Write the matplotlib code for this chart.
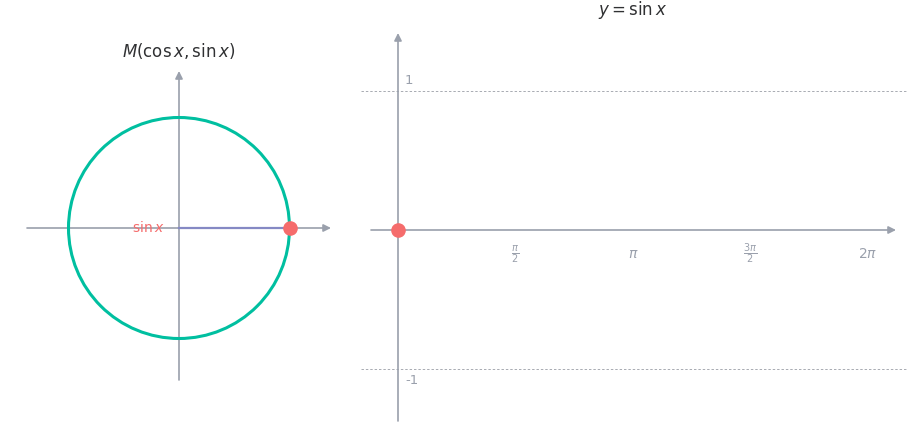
import numpy as np
import matplotlib.pyplot as plt
from matplotlib.patches import Circle

# current angle and the point M on the unit circle
angle_x = 0.0
point_cos = 1.0
point_sin = 0.0
radius = 1.0

# sine graph ticks
x_ticks = [np.pi / 2, np.pi, 3 * np.pi / 2, 2 * np.pi]
x_tick_labels = [r'$\frac{\pi}{2}$', r'$\pi$', r'$\frac{3\pi}{2}$', r'$2\pi$']
y_levels = [1, -1]
y_level_labels = ['1', '-1']

axis_color = '#9aa0ac'
circle_color = '#00bfa0'
point_color = '#f56c6c'
seg_color = '#8589c4'
text_color = '#303133'

W, H = 924, 440
fig = plt.figure(figsize=(W / 100, H / 100), dpi=100)


def add_px_axes(x0, x1, y0, y1):
    # pixel box (top-left origin) -> figure fraction
    return fig.add_axes([x0 / W, (H - y1) / H, (x1 - x0) / W, (y1 - y0) / H])


def arrow(ax, start, tip):
    ax.annotate('', xy=tip, xytext=start,
                arrowprops=dict(arrowstyle='-|>', color=axis_color, lw=1.2,
                                mutation_scale=11, shrinkA=0, shrinkB=0))


# ---- left: unit circle ----
cx, cy, s1 = 179, 228, 110.5
ax1 = add_px_axes(5, 350, 0, 440)
ax1.set_xlim((5 - cx) / s1, (350 - cx) / s1)
ax1.set_ylim((cy - 440) / s1, cy / s1)
ax1.axis('off')

arrow(ax1, ((27 - cx) / s1, 0), ((331 - cx) / s1, 0))
arrow(ax1, (0, (cy - 380) / s1), (0, (cy - 71) / s1))
ax1.add_patch(Circle((0, 0), radius, fill=False, color=circle_color, lw=2.2, zorder=3))
ax1.plot([0, point_cos], [0, point_sin], color=seg_color, lw=1.6, zorder=4)
ax1.plot([point_cos], [point_sin], 'o', color=point_color, ms=9.5, zorder=5)
ax1.text(-0.28, 0, r'$\sin x$', color=point_color, fontsize=10,
         ha='center', va='center')
ax1.text(0, (cy - 51) / s1, r'$M(\cos x, \sin x)$', color=text_color,
         fontsize=12, ha='center', va='center')

# ---- right: y = sin x ----
ox, oy = 398, 230
sx = (868 - 398) / (2 * np.pi)
sy = 138.5
ax2 = add_px_axes(355, 920, 0, 440)
ax2.set_xlim((355 - ox) / sx, (920 - ox) / sx)
ax2.set_ylim((oy - 440) / sy, oy / sy)
ax2.axis('off')

arrow(ax2, ((371 - ox) / sx, 0), ((896 - ox) / sx, 0))
arrow(ax2, (0, (oy - 421) / sy), (0, (oy - 33) / sy))

for lvl, lab in zip(y_levels, y_level_labels):
    ax2.plot([(361 - ox) / sx, (906 - ox) / sx], [lvl, lvl], color='#a8abb2',
             lw=0.7, ls=(0, (2.5, 2)), zorder=1)
    ax2.text(7 / sx, lvl + (11 / sy if lvl > 0 else -12 / sy),
             lab, color=axis_color, fontsize=9.5, ha='left', va='center')

for xt, lab in zip(x_ticks, x_tick_labels):
    ax2.text(xt, -24 / sy, lab, color=axis_color, fontsize=10,
             ha='center', va='center')

ax2.plot([angle_x], [point_sin], 'o', color=point_color, ms=9.5, zorder=5)
ax2.text(np.pi, (oy - 10) / sy, r'$y = \sin x$', color=text_color,
         fontsize=12, ha='center', va='center')

fig.savefig('out.png', dpi=100)
